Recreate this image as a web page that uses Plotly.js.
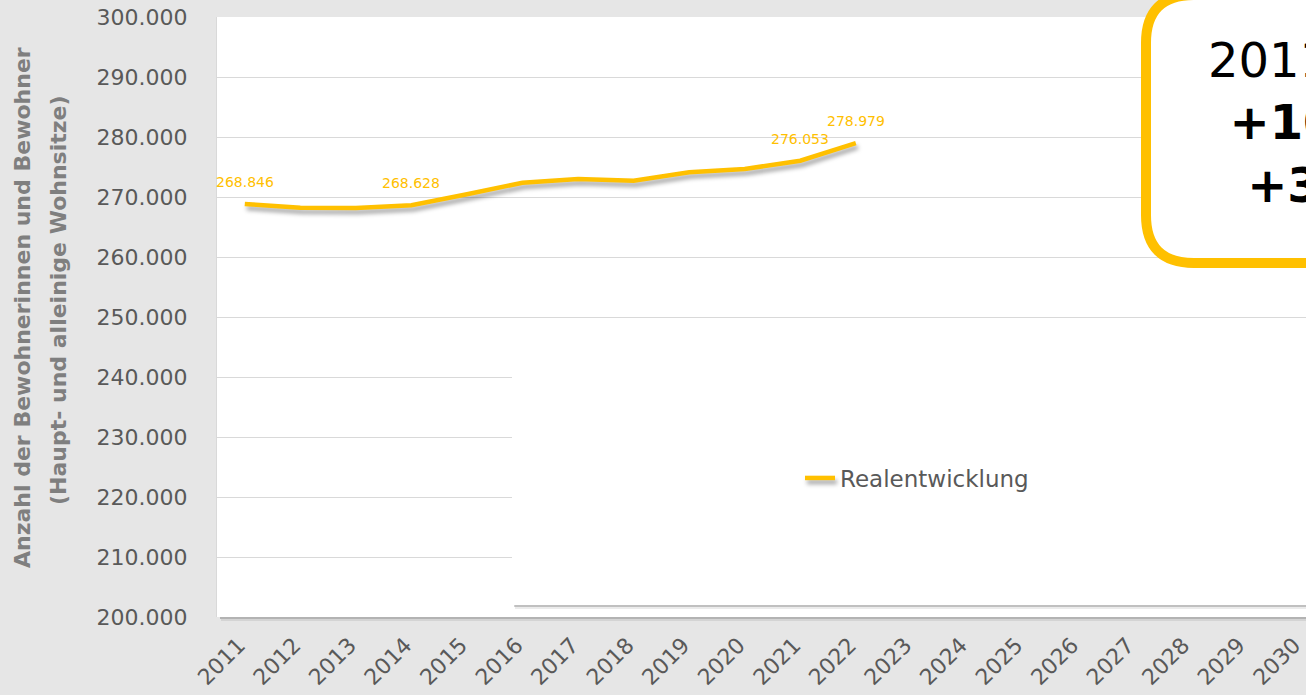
<!DOCTYPE html>
<html>
<head>
<meta charset="utf-8">
<script src="https://cdn.plot.ly/plotly-3.0.1.min.js"></script>
<style>
html,body{margin:0;padding:0;background:#E6E6E6;overflow:hidden;width:1306px;height:695px;}
#chart{width:1600px;height:695px;}
.js-line{filter:drop-shadow(2px 4px 2px rgba(0,0,0,0.35));}
</style>
</head>
<body>
<div id="chart"></div>
<script>
// ---- data ----
const years = ['2011','2012','2013','2014','2015','2016','2017','2018','2019','2020','2021','2022','2023','2024','2025','2026','2027','2028','2029','2030'];
const realYears = ['2011','2012','2013','2014','2015','2016','2017','2018','2019','2020','2021','2022'];
const realValues = [268846, 268200, 268180, 268628, 270450, 272380, 273000, 272720, 274120, 274670, 276053, 278979];
const labelYears = ['2011','2014','2021','2022'];
const seriesName = 'Realentwicklung';
const yTitle1 = 'Anzahl der Bewohnerinnen und Bewohner';
const yTitle2 = '(Haupt- und alleinige Wohnsitze)';

// ---- helpers ----
const W = 1600, H = 695, L = 217, T = 17, PW = 1111, PH = 600;
const px = x => (x - L) / PW;
const py = y => (T + PH - y) / PH;
function fmt(v){ return String(Math.round(v)).replace(/\B(?=(\d{3})+(?!\d))/g, '.'); }
function roundRect(x0,y0,x1,y1,r){
  const p = (x,y) => px(x).toFixed(5)+','+py(y).toFixed(5);
  return 'M'+p(x0+r,y0)+' L'+p(x1-r,y0)+' Q'+p(x1,y0)+' '+p(x1,y0+r)+
         ' L'+p(x1,y1-r)+' Q'+p(x1,y1)+' '+p(x1-r,y1)+
         ' L'+p(x0+r,y1)+' Q'+p(x0,y1)+' '+p(x0,y1-r)+
         ' L'+p(x0,y0+r)+' Q'+p(x0,y0)+' '+p(x0+r,y0)+' Z';
}

const gold = '#FFC000';
const first = realValues[0], last = realValues[realValues.length-1];
const diff = last - first;
const pct = (diff / first * 100).toFixed(1).replace('.', ',');
const calloutText = realYears[0] + '–' + realYears[realYears.length-1] +
  '<br><b>+' + fmt(diff) + '</b><br><b>+' + pct + ' %</b>';

const trace = {
  type: 'scatter', mode: 'lines', name: seriesName,
  x: realYears, y: realValues,
  line: {color: gold, width: 4.5},
  hoverinfo: 'skip'
};

const annotations = labelYears.map(yr => {
  const i = realYears.indexOf(yr);
  return {x: years.indexOf(yr), y: realValues[i], xref: 'x', yref: 'y', text: fmt(realValues[i]),
          xanchor: 'center', yanchor: 'middle',
          showarrow: false, yshift: 22, font: {family: 'DejaVu Sans', size: 14, color: gold}};
});
annotations.push({xref:'paper', yref:'paper', x: px(22), y: py(308), xanchor:'center', yanchor:'middle',
  text: '<b>'+yTitle1+'</b>',
  textangle: -90, showarrow: false, font: {family:'DejaVu Sans', size: 22, color:'#7F7F7F'}});
annotations.push({xref:'paper', yref:'paper', x: px(58), y: py(300), xanchor:'center', yanchor:'middle',
  text: '<b>'+yTitle2+'</b>',
  textangle: -90, showarrow: false, font: {family:'DejaVu Sans', size: 22, color:'#7F7F7F'}});
annotations.push({xref:'paper', yref:'paper', x: px(1342), y: py(122), xanchor:'center', yanchor:'middle',
  text: calloutText,
  showarrow: false, align: 'center', font: {family:'DejaVu Sans', size: 48, color:'#000000'}});

const shapes = [
  // plot bottom shadow
  {type:'rect', xref:'paper', yref:'paper', x0: px(220), x1: px(1600), y0: py(617), y1: py(619), fillcolor:'rgba(0,0,0,0.22)', line:{width:0}, layer:'above'},
  {type:'rect', xref:'paper', yref:'paper', x0: px(221), x1: px(1600), y0: py(619), y1: py(621), fillcolor:'rgba(0,0,0,0.08)', line:{width:0}, layer:'above'},
  // legend box shadow + box
  {type:'rect', xref:'paper', yref:'paper', x0: px(514), x1: px(1600), y0: py(353), y1: py(607), fillcolor:'rgba(0,0,0,0.18)', line:{width:0}, layer:'above'},
  {type:'rect', xref:'paper', yref:'paper', x0: px(515), x1: px(1600), y0: py(355), y1: py(609), fillcolor:'rgba(0,0,0,0.08)', line:{width:0}, layer:'above'},
  {type:'rect', xref:'paper', yref:'paper', x0: px(512), x1: px(1600), y0: py(350), y1: py(605), fillcolor:'#FFFFFF', line:{width:0}, layer:'above'},
  // callout shadow + box
  {type:'path', xref:'paper', yref:'paper', path: roundRect(1149, -2, 1543, 268, 48), fillcolor:'rgba(0,0,0,0.18)', line:{width:0}, layer:'above'},
  {type:'path', xref:'paper', yref:'paper', path: roundRect(1146, -5, 1540, 263, 48), fillcolor:'#FFFFFF', line:{color: gold, width: 10}, layer:'above'}
];

const layout = {
  width: W, height: H,
  margin: {l: L, r: W - L - PW, t: T, b: H - T - PH, pad: 0},
  paper_bgcolor: '#E6E6E6', plot_bgcolor: '#FFFFFF',
  separators: ',.',
  showlegend: true,
  legend: {x: px(800), y: py(478), xanchor: 'left', yanchor: 'middle', bgcolor: 'rgba(0,0,0,0)',
           font: {family: 'DejaVu Sans', size: 23, color: '#595959'}},
  xaxis: {type: 'category', categoryorder: 'array', categoryarray: years, tickvals: years,
          range: [-0.5, years.length - 0.5], tickangle: -45, showgrid: false, zeroline: false,
          showline: false, ticks: '', ticklabelstandoff: 10, ticklabelshift: -6,
          tickfont: {family: 'DejaVu Sans', size: 22, color: '#595959'}},
  yaxis: {range: [200000, 300000], dtick: 10000, tickformat: ',d', showgrid: true,
          gridcolor: '#D9D9D9', gridwidth: 1, zeroline: false, showline: true, linecolor: '#D9D9D9',
          ticks: '', ticklabelstandoff: 24,
          tickfont: {family: 'DejaVu Sans', size: 22, color: '#595959'}},
  annotations: annotations,
  shapes: shapes
};

Plotly.newPlot('chart', [trace], layout, {staticPlot: true, displayModeBar: false});
</script>
</body>
</html>
